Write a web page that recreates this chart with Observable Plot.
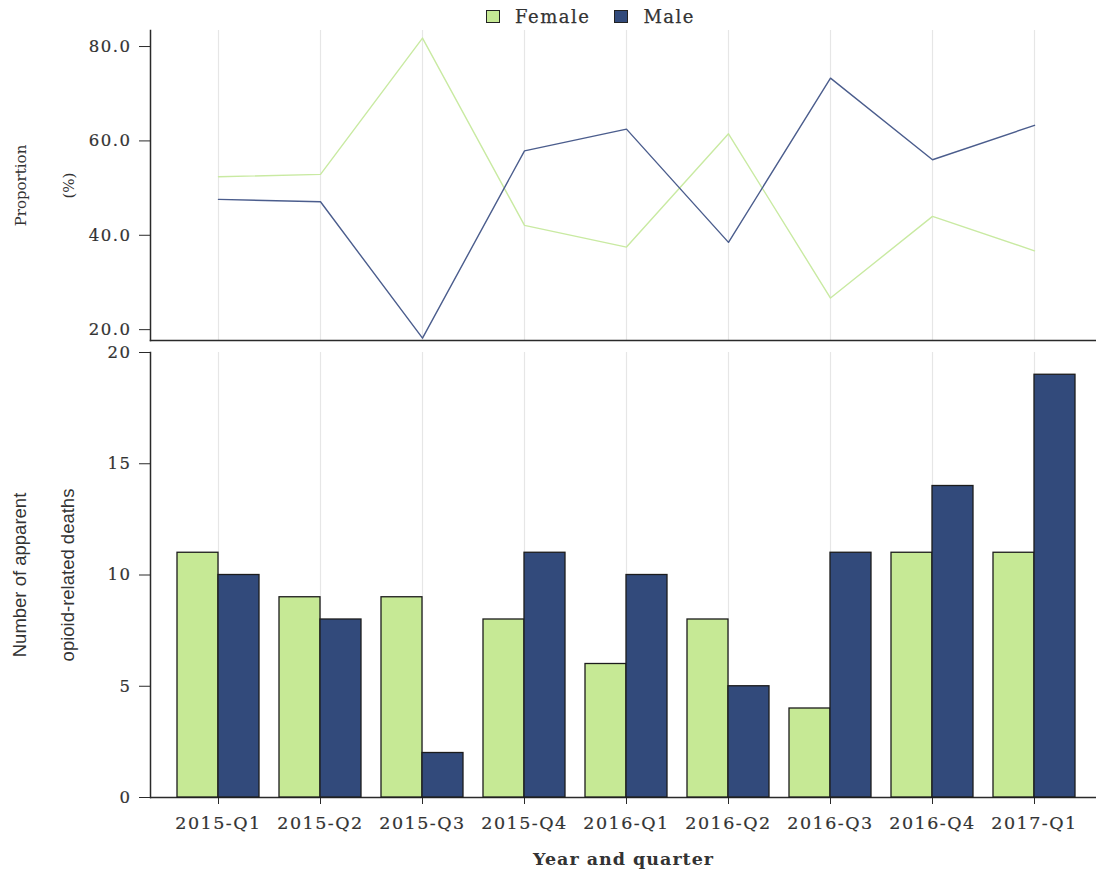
<!DOCTYPE html>
<html><head><meta charset="utf-8">
<script src="https://cdn.jsdelivr.net/npm/d3@7"></script>
<script src="https://cdn.jsdelivr.net/npm/@observablehq/plot@0.6"></script>
<style>
body{margin:0;background:#fff;}
#wrap{position:relative;width:1096px;height:871px;overflow:hidden;}
#legend{position:absolute;left:486px;top:6px;display:flex;align-items:center;font-family:"DejaVu Serif";font-size:18px;letter-spacing:1.5px;color:#333;-webkit-text-stroke:0.25px #333;}
.sw{display:inline-block;width:12px;height:11px;border:1.5px solid #222;margin-right:15px;-webkit-text-stroke:0;}
#top,#axes,#bars{position:absolute;left:0;}
#top{top:28px;}
#axes,#bars{top:342px;}
svg{background:transparent !important;}
g[aria-label="y-axis tick label"] text{letter-spacing:1.5px;stroke:#333;stroke-width:0.2px;}
g[aria-label="x-axis tick label"] text{letter-spacing:1.5px;stroke:#333;stroke-width:0.2px;}
g[aria-label="x-axis label"] text{letter-spacing:1px;font-weight:bold;}
</style></head><body>
<div id="wrap">
<div id="legend"><span class="sw" style="background:#c6e995"></span><span style="margin-right:24px">Female</span><span class="sw" style="background:#324a7b"></span><span>Male</span></div>
<div id="top"></div><div id="axes"></div><div id="bars"></div>
</div>
<script>
const quarters = ["2015-Q1","2015-Q2","2015-Q3","2015-Q4","2016-Q1","2016-Q2","2016-Q3","2016-Q4","2017-Q1"];
const sexes = ["Female","Male"];
const femaleDeaths = [11,9,9,8,6,8,4,11,11];
const maleDeaths = [10,8,2,11,10,5,11,14,19];
const femalePct = [52.4,52.9,81.8,42.1,37.5,61.5,26.7,44.0,36.7];
const malePct = [47.6,47.1,18.2,57.9,62.5,38.5,73.3,56.0,63.3];
const pctTicks = [20,40,60,80];
const deathTicks = [0,5,10,15,20];
const barFill = ["#c6e995","#324a7b"];
const lineStroke = ["#c9eaa2","#4b5d8d"];

const pctData = quarters.flatMap((q,i)=>[{quarter:q,sex:"Female",value:femalePct[i]},{quarter:q,sex:"Male",value:malePct[i]}]);
const deathData = quarters.flatMap((q,i)=>[{quarter:q,sex:"Female",value:femaleDeaths[i]},{quarter:q,sex:"Male",value:maleDeaths[i]}]);

const W = 1096, xRange = [165,1087];
const baseStyle = "font-family:'DejaVu Serif';font-size:16px;color:#333;background:transparent;overflow:visible;";
const ink = "#2a2a2a";

const topPlot = Plot.plot({
  width: W, height: 314, marginTop: 2, marginBottom: 2, marginLeft: 150, marginRight: 0,
  style: baseStyle,
  x: {type: "point", domain: quarters, range: xRange, padding: 0.5, axis: null},
  y: {domain: [17.7, 83.4], axis: null},
  color: {domain: sexes, range: lineStroke},
  marks: [
    Plot.gridX({stroke: "#e6e6e6", strokeOpacity: 1, strokeWidth: 1.2}),
    Plot.axisY(pctTicks, {tickSize: 11, tickPadding: 8, tickFormat: d => d.toFixed(1), label: null, stroke: ink, fill: "#333", fontSize: 16.5}),
    Plot.frame({anchor: "left", stroke: ink, strokeWidth: 1.5}),
    Plot.frame({anchor: "bottom", stroke: ink, strokeWidth: 1.5}),
    Plot.line(pctData, {x: "quarter", y: "value", z: "sex", stroke: "sex", strokeWidth: 1.4}),
    Plot.text(["Proportion\n(%)"], {text: d => d, frameAnchor: "left", textAnchor: "middle", rotate: -90, dx: -116, lineHeight: 3.2, fontSize: 15, fill: "#333", fontFamily: "DejaVu Serif"})
  ]
});
document.getElementById("top").append(topPlot);

const axesPlot = Plot.plot({
  width: W, height: 529, marginTop: 10, marginBottom: 74, marginLeft: 150, marginRight: 0,
  style: baseStyle,
  x: {type: "point", domain: quarters, range: xRange, padding: 0.5, axis: null},
  y: {domain: [0, 20], axis: null},
  marks: [
    Plot.gridX({stroke: "#e6e6e6", strokeOpacity: 1, strokeWidth: 1.2}),
    Plot.axisY(deathTicks, {tickSize: 11, tickPadding: 8, label: null, stroke: ink, fill: "#333", fontSize: 16.5}),
    Plot.axisX({tickSize: 7, tickPadding: 12, label: "Year and quarter", labelAnchor: "center", labelOffset: 67, stroke: ink, fill: "#333", fontSize: 17.5}),
    Plot.frame({anchor: "left", stroke: ink, strokeWidth: 1.5}),
    Plot.ruleY([0], {stroke: ink, strokeWidth: 1.5}),
    Plot.text(["Number of apparent\nopioid-related deaths"], {text: d => d, frameAnchor: "left", textAnchor: "middle", rotate: -90, dx: -116, lineHeight: 2.6, fontSize: 18.5, fill: "#333", fontFamily: "Liberation Sans Narrow, Liberation Sans, sans-serif"})
  ]
});
document.getElementById("axes").append(axesPlot);

const barsPlot = Plot.plot({
  width: W, height: 529, marginTop: 10, marginBottom: 74, marginLeft: 150, marginRight: 0,
  style: baseStyle,
  fx: {domain: quarters, range: xRange, paddingInner: 0.2, paddingOuter: 0.1, axis: null, label: null},
  x: {domain: sexes, padding: 0, axis: null},
  y: {domain: [0, 20], axis: null},
  color: {domain: sexes, range: barFill},
  marks: [
    Plot.barY(deathData, {fx: "quarter", x: "sex", y: "value", fill: "sex", stroke: "#1c1c1c", strokeWidth: 1.3})
  ]
});
document.getElementById("bars").append(barsPlot);
</script>
</body></html>
